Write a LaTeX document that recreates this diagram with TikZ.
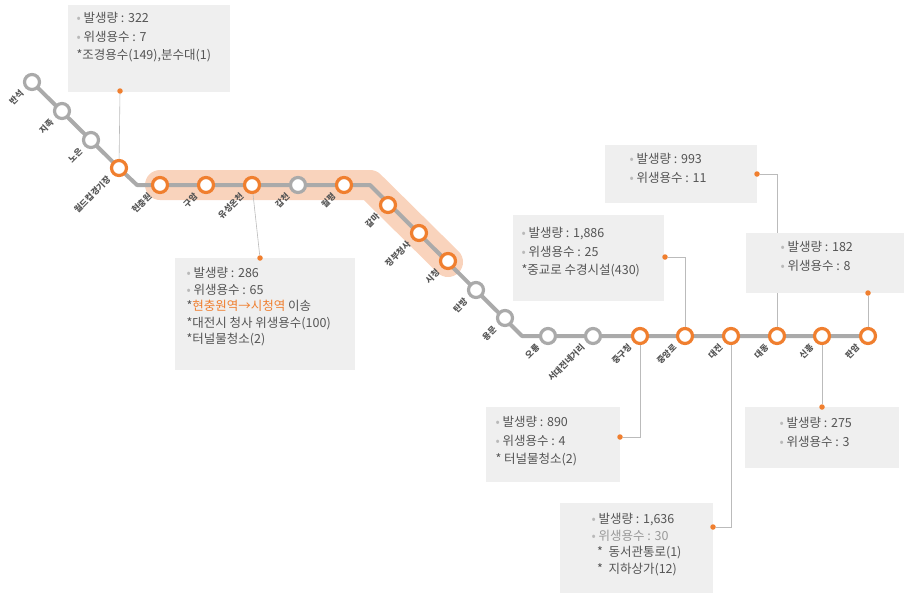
\documentclass[tikz,border=0pt]{standalone}
\usepackage{fontspec}
\setmainfont{Noto Sans CJK KR}
\begin{document}
\begin{tikzpicture}[x=1pt,y=-1pt,
  every node/.style={font=\fontsize{12.5}{18.5}\selectfont, text=txt},
  ost/.style={circle, draw=org, line width=3.2pt, fill=white, minimum size=15pt, inner sep=0pt},
  gst/.style={circle, draw=gline, line width=3.2pt, fill=white, minimum size=15pt, inner sep=0pt},
  slab/.style={font=\fontsize{8.5}{9}\selectfont\bfseries, text=txt, rotate=45, anchor=east, inner sep=0pt},
  infobox/.style={fill=boxc, anchor=north west, inner sep=0pt},
  lead/.style={draw=gline!80, line width=0.6pt},
  dotc/.style={circle, fill=org, inner sep=0pt, minimum size=5.5pt}]
\definecolor{org}{HTML}{F07F2F}
\definecolor{gline}{HTML}{AAAAAA}
\definecolor{boxc}{HTML}{EFEFEF}
\definecolor{txt}{HTML}{555555}
\definecolor{hl}{HTML}{F9D3BC}
\useasboundingbox (0,0) rectangle (904,598);
\draw[hl, line width=30pt, line cap=round, line join=round] (160,185) -- (370,185) -- (448,262);
\coordinate (b1) at (137,185);
\coordinate (b2) at (370,185);
\coordinate (b3) at (522,336);
\draw[gline, line width=4pt, line join=round] (32,82) -- (119,168) -- (b1) -- (b2) -- (b3) -- (868,336);
\foreach \n/\x/\y/\s/\l in {s1/32/82/gst/반석, s2/62/111/gst/지족, s3/91/140/gst/노은, s4/119/168/ost/월드컵경기장,
  s5/160/185/ost/현충원, s6/206/185/ost/구암, s7/252/185/ost/유성온천, s8/298/185/gst/갑천, s9/344/185/ost/월평,
  s10/388/205/ost/갈마, s11/419/233/ost/정부청사, s12/448/261/ost/시청, s13/476/290/gst/탄방, s14/505/318/gst/용문,
  s15/548/336/gst/오룡, s16/593/336/gst/서대전네거리, s17/640/336/ost/중구청, s18/685/336/ost/중앙로, s19/731/336/ost/대전,
  s20/777/336/ost/대동, s21/822/336/ost/신흥, s22/868/336/ost/판암}
  { \node[\s] (\n) at (\x,\y) {};
    \node[slab] at ([xshift=-10pt,yshift=-10pt]\n.center) {\l}; }
\newcommand\bl{{\color{gray!55}•}\ }
\node[infobox, minimum width=162pt, minimum height=87pt] (B1) at (68,5) {};
\node[anchor=north west, align=left] at (73,9) {\bl 발생량 : 322\\\bl 위생용수 : 7\\*조경용수(149),분수대(1)};
\node[dotc] (d1) at (120,91) {};
\draw[lead] (d1) -- (s4);

\node[infobox, minimum width=180pt, minimum height=112pt] (B2) at (175,258) {};
\node[anchor=north west, align=left, font=\fontsize{12.5}{16.5}\selectfont] at (183,264) {\bl 발생량 : 286\\\bl 위생용수 : 65\\*{\color{org}현충원역→시청역} 이송\\*대전시 청사 위생용수(100)\\*터널물청소(2)};
\node[dotc] (d2) at (260,258) {};
\draw[lead] (s7) -- (d2);

\node[infobox, minimum width=151pt, minimum height=86pt] (B3) at (513,215) {};
\node[anchor=north west, align=left] at (518,224) {\bl 발생량 : 1,886\\\bl 위생용수 : 25\\*중교로 수경시설(430)};
\node[dotc] (d3) at (665,257) {};
\draw[lead] (d3) -| (s18);

\draw[lead] (777,174) -- (s20);
\node[infobox, minimum width=152pt, minimum height=58pt] (B4) at (605,145) {};
\node[anchor=north west, align=left] at (626,150) {\bl 발생량 : 993\\\bl 위생용수 : 11};
\node[dotc] (d4) at (757,174) {};
\draw[lead] (d4) -- (777,174);

\node[infobox, minimum width=159pt, minimum height=60pt] (B5) at (746,233) {};
\node[anchor=north west, align=left] at (777,238) {\bl 발생량 : 182\\\bl 위생용수 : 8};
\node[dotc] (d5) at (868,293) {};
\draw[lead] (d5) -- (s22);

\node[infobox, minimum width=134pt, minimum height=75pt] (B6) at (486,407) {};
\node[anchor=north west, align=left] at (492,413) {\bl 발생량 : 890\\\bl 위생용수 : 4\\* 터널물청소(2)};
\node[dotc] (d6) at (620,437) {};
\draw[lead] (d6) -| (s17);

\node[infobox, minimum width=153pt, minimum height=90pt] (B7) at (560,503) {};
\node[anchor=north west, align=left, font=\fontsize{12.5}{16.5}\selectfont] at (588,510) {\bl 발생량 : 1,636\\\bl {\color{gray!80}위생용수 : 30}\\\ \ * \ 동서관통로(1)\\\ \ * \ 지하상가(12)};
\node[dotc] (d7) at (713,527) {};
\draw[lead] (d7) -| (s19);

\node[infobox, minimum width=154pt, minimum height=61pt] (B8) at (745,407) {};
\node[anchor=north west, align=left] at (776,414) {\bl 발생량 : 275\\\bl 위생용수 : 3};
\node[dotc] (d8) at (822,407) {};
\draw[lead] (d8) -- (s21);
\end{tikzpicture}
\end{document}
